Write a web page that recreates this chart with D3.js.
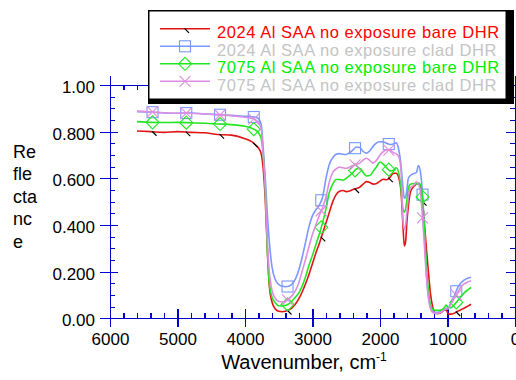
<!DOCTYPE html>
<html>
<head>
<meta charset="utf-8">
<script src="https://cdn.jsdelivr.net/npm/d3@7"></script>
<style>
  body { margin: 0; background: #fff; }
  svg { display: block; font-family: "Liberation Sans", Arial, Helvetica, sans-serif; }
</style>
</head>
<body>
<svg id="chart" width="516" height="380"></svg>
<script>
// wavenumber grid, cm-1 (shared by all four spectra)
const wavenumber = [
  5600, 5400, 5200, 5000, 4800, 4600, 4400, 4200, 4000, 3900,
  3850, 3800, 3760, 3730, 3700, 3670, 3640, 3600, 3550, 3500,
  3450, 3400, 3350, 3300, 3250, 3200, 3150, 3100, 3050, 3000,
  2950, 2900, 2850, 2800, 2750, 2700, 2650, 2600, 2550, 2500,
  2450, 2400, 2350, 2300, 2250, 2200, 2150, 2100, 2050, 2000,
  1950, 1900, 1850, 1800, 1760, 1720, 1690, 1660, 1640, 1620,
  1600, 1580, 1550, 1500, 1460, 1430, 1400, 1370, 1340, 1310,
  1280, 1250, 1220, 1190, 1150, 1100, 1050, 1020, 990, 950,
  900, 850, 800, 750, 700, 650
]

const bare2024 = [
  .803, .800, .797, .800, .797, .795, .788, .785, .770, .757,
  .745, .730, .705, .640, .510, .300, .140, .070, .040, .030,
  .028, .030, .036, .046, .062, .085, .115, .150, .190, .235,
  .280, .320, .365, .410, .455, .500, .530, .545, .548, .543,
  .546, .552, .556, .562, .575, .586, .582, .575, .578, .588,
  .596, .594, .605, .622, .622, .600, .550, .400, .310, .330,
  .420, .480, .540, .565, .575, .578, .565, .500, .400, .290,
  .190, .100, .050, .025, .020, .024, .034, .036, .020, .018,
  .022, .030, .037, .044, .052, .060
]

const clad2024 = [
  .886, .884, .880, .879, .880, .876, .873, .870, .866, .864,
  .862, .856, .830, .730, .600, .450, .330, .220, .165, .145,
  .138, .135, .137, .148, .170, .210, .265, .330, .395, .440,
  .465, .485, .520, .600, .660, .688, .703, .706, .703, .702,
  .710, .722, .734, .732, .715, .708, .718, .738, .752, .757,
  .756, .750, .745, .748, .752, .720, .660, .560, .515, .520,
  .555, .600, .612, .620, .625, .655, .625, .530, .360, .180,
  .090, .045, .030, .026, .025, .030, .038, .042, .045, .065,
  .095, .130, .152, .165, .172, .176
]

const bare7075 = [
  .843, .840, .839, .840, .838, .836, .833, .830, .823, .815,
  .808, .795, .770, .700, .560, .300, .150, .090, .066, .054,
  .053, .056, .062, .075, .092, .110, .140, .180, .230, .270,
  .315, .360, .410, .470, .540, .575, .595, .595, .592, .600,
  .612, .625, .640, .643, .625, .610, .612, .630, .650, .670,
  .660, .645, .632, .635, .645, .620, .560, .470, .455, .470,
  .510, .555, .575, .578, .575, .580, .572, .520, .370, .210,
  .110, .055, .040, .035, .034, .035, .045, .057, .045, .045,
  .058, .075, .093, .110, .122, .133
]

const clad7075 = [
  .888, .885, .881, .879, .879, .876, .872, .868, .862, .857,
  .852, .840, .810, .700, .560, .340, .200, .120, .085, .072,
  .070, .074, .082, .098, .120, .155, .205, .255, .310, .360,
  .400, .440, .475, .520, .585, .625, .640, .648, .645, .643,
  .648, .655, .660, .665, .678, .686, .676, .665, .678, .700,
  .715, .722, .720, .710, .705, .690, .640, .420, .380, .400,
  .460, .520, .560, .570, .585, .575, .540, .430, .300, .170,
  .080, .040, .025, .022, .021, .025, .035, .040, .040, .060,
  .085, .110, .135, .148, .156, .161
]

const seriesNames = [
  '2024 Al SAA no exposure bare DHR',
  '2024 Al SAA no exposure clad DHR',
  '7075 Al SAA no exposure bare DHR',
  '7075 Al SAA no exposure clad DHR'
]

// symbols are placed every 500 cm-1
const markerWavenumber = [5370, 4870, 4370, 3870, 3370, 2870, 2370, 1870, 1370, 870]

const xTicks = [6000, 5000, 4000, 3000, 2000, 1000, 0]
const yTicks = [0, 0.2, 0.4, 0.6, 0.8, 1.0]
const yTickLabels = ['0.00', '0.200', '0.400', '0.600', '0.800', '1.00']

const series = [
  { name: seriesNames[0], values: bare2024, color: '#e01414', text: '#ff0000', symbol: 'tick' },
  { name: seriesNames[1], values: clad2024, color: '#7a98ff', text: '#c4c4c4', symbol: 'square' },
  { name: seriesNames[2], values: bare7075, color: '#22e622', text: '#00ee00', symbol: 'diamond' },
  { name: seriesNames[3], values: clad7075, color: '#de8ee0', text: '#c4c4c4', symbol: 'cross' }
]

const axisColor = '#0000cc'

const svg = d3.select('#chart')

const x = d3.scaleLinear().domain([6000, 0]).range([110, 515])
const y = d3.scaleLinear().domain([0, 1.04]).range([318.3, 318.3 - 1.04 * 233.3])

const xMinor = d3.range(200, 6000, 200).filter((d) => d % 1000 !== 0)
const yMinor = d3.range(0.05, 1.0, 0.05).filter((d) => Math.abs(d * 5 - Math.round(d * 5)) > 1e-6)

function styleAxis(g, labels) {
  g.attr('shape-rendering', 'crispEdges')
  g.selectAll('path').attr('stroke', axisColor).attr('stroke-width', 1.2)
  g.selectAll('line').attr('stroke', axisColor).attr('stroke-width', 1.2)
  g.selectAll('text')
    .attr('fill', '#000')
    .style('font-size', labels ? '17px' : '0px')
    .style('font-family', '"Liberation Sans", Arial, Helvetica, sans-serif')
}

// bottom axis
const bottomAxis = svg.append('g').attr('transform', `translate(0,${y(0)})`)
bottomAxis.append('g')
  .call(d3.axisBottom(x).tickValues(xTicks).tickSize(9).tickSizeOuter(0).tickPadding(6).tickFormat(d3.format('d')))
  .call((g) => styleAxis(g, true))
bottomAxis.append('g')
  .call(d3.axisTop(x).tickValues(xTicks).tickSize(9).tickSizeOuter(0).tickFormat(''))
  .call((g) => styleAxis(g, false))
bottomAxis.append('g')
  .call(d3.axisTop(x).tickValues(xMinor).tickSize(5).tickSizeOuter(0).tickFormat(''))
  .call((g) => styleAxis(g, false))

// top axis at 1.00
const topAxis = svg.append('g').attr('transform', `translate(0,${y(1)})`)
topAxis.append('g')
  .call(d3.axisBottom(x).tickValues(xTicks).tickSize(9).tickSizeOuter(0).tickFormat(''))
  .call((g) => styleAxis(g, false))
topAxis.append('g')
  .call(d3.axisBottom(x).tickValues(xMinor).tickSize(5).tickSizeOuter(0).tickFormat(''))
  .call((g) => styleAxis(g, false))

// left axis
const leftAxis = svg.append('g').attr('transform', `translate(${x(6000)},0)`)
leftAxis.append('g')
  .call(d3.axisLeft(y).tickValues(yTicks).tickSize(10).tickSizeOuter(0).tickPadding(5)
    .tickFormat((d, i) => yTickLabels[i]))
  .call((g) => styleAxis(g, true))
  .selectAll('text').attr('dy', '0.45em')
leftAxis.append('g')
  .call(d3.axisRight(y).tickValues(yTicks).tickSize(8).tickSizeOuter(0).tickFormat(''))
  .call((g) => styleAxis(g, false))
leftAxis.append('g')
  .call(d3.axisRight(y).tickValues(yMinor).tickSize(5).tickSizeOuter(0).tickFormat(''))
  .call((g) => styleAxis(g, false))

// right axis
const rightAxis = svg.append('g').attr('transform', `translate(${x(0)},0)`)
rightAxis.append('g')
  .call(d3.axisLeft(y).tickValues(yTicks).tickSize(9).tickSizeOuter(0).tickFormat(''))
  .call((g) => styleAxis(g, false))
rightAxis.append('g')
  .call(d3.axisLeft(y).tickValues(yMinor).tickSize(5).tickSizeOuter(0).tickFormat(''))
  .call((g) => styleAxis(g, false))

// axis titles
const xTitle = svg.append('text')
  .attr('x', 304)
  .attr('y', 369)
  .attr('text-anchor', 'middle')
  .style('font-size', '20px')
  .attr('fill', '#000')
xTitle.append('tspan').text('Wavenumber, cm')
xTitle.append('tspan').attr('dy', -8).style('font-size', '12px').text('-1')

const yTitle = ['Re', 'fle', 'cta', 'nc', 'e']
svg.append('g')
  .selectAll('text')
  .data(yTitle)
  .join('text')
  .attr('x', 13)
  .attr('y', (d, i) => 158 + i * 22.4)
  .style('font-size', '18px')
  .attr('fill', '#000')
  .text((d) => d)

// curves
const line = d3.line()
  .x((d) => x(d[0]))
  .y((d) => y(d[1]))
  .curve(d3.curveMonotoneX)

function valueAt(values, w) {
  for (let i = 0; i < wavenumber.length - 1; i++) {
    const a = wavenumber[i]
    const b = wavenumber[i + 1]
    if (w <= a && w >= b) {
      const t = (a - w) / (a - b)
      return values[i] + t * (values[i + 1] - values[i])
    }
  }
  return values[values.length - 1]
}

function drawSymbol(g, symbol, cx, cy, color) {
  if (symbol === 'square') {
    g.append('rect')
      .attr('x', cx - 5.5).attr('y', cy - 5.5)
      .attr('width', 11).attr('height', 11)
      .attr('fill', 'none').attr('stroke', color).attr('stroke-width', 1.1)
  } else if (symbol === 'diamond') {
    g.append('path')
      .attr('d', `M${cx},${cy - 6.5}L${cx + 6.5},${cy}L${cx},${cy + 6.5}L${cx - 6.5},${cy}Z`)
      .attr('fill', 'none').attr('stroke', color).attr('stroke-width', 1.1)
  } else if (symbol === 'cross') {
    g.append('path')
      .attr('d', `M${cx - 5.5},${cy - 5.5}L${cx + 5.5},${cy + 5.5}M${cx - 5.5},${cy + 5.5}L${cx + 5.5},${cy - 5.5}`)
      .attr('fill', 'none').attr('stroke', color).attr('stroke-width', 1.1)
  } else {
    g.append('line')
      .attr('x1', cx - 0.5).attr('y1', cy - 0.5)
      .attr('x2', cx + 4).attr('y2', cy + 4)
      .attr('stroke', '#000').attr('stroke-width', 1.2)
  }
}

const plot = svg.append('g')
series.forEach((s) => {
  const pts = wavenumber.map((w, i) => [w, s.values[i]])
  plot.append('path')
    .datum(pts)
    .attr('d', line)
    .attr('fill', 'none')
    .attr('stroke', s.color)
    .attr('stroke-width', 1.6)
  const mg = plot.append('g')
  markerWavenumber.forEach((w) => {
    drawSymbol(mg, s.symbol, x(w), y(valueAt(s.values, w)), s.color)
  })
})

// legend
const legend = svg.append('g').attr('id', 'legend')
legend.append('rect')
  .attr('x', 148).attr('y', 10)
  .attr('width', 366).attr('height', 94)
  .attr('fill', '#000')
legend.append('rect')
  .attr('x', 149.5).attr('y', 11.5)
  .attr('width', 356).attr('height', 87)
  .attr('fill', '#fff')

series.forEach((s, i) => {
  const base = 38.3 + i * 17.5
  const ly = base - 9.5
  legend.append('line')
    .attr('x1', 160).attr('x2', 210)
    .attr('y1', ly).attr('y2', ly)
    .attr('stroke', s.color).attr('stroke-width', 1.4)
  drawSymbol(legend, s.symbol, 185, ly, s.color)
  legend.append('text')
    .attr('x', 217)
    .attr('y', base)
    .style('font-size', '16.5px')
    .style('letter-spacing', '0.55px')
    .attr('fill', s.text)
    .text(s.name)
})
</script>
</body>
</html>
